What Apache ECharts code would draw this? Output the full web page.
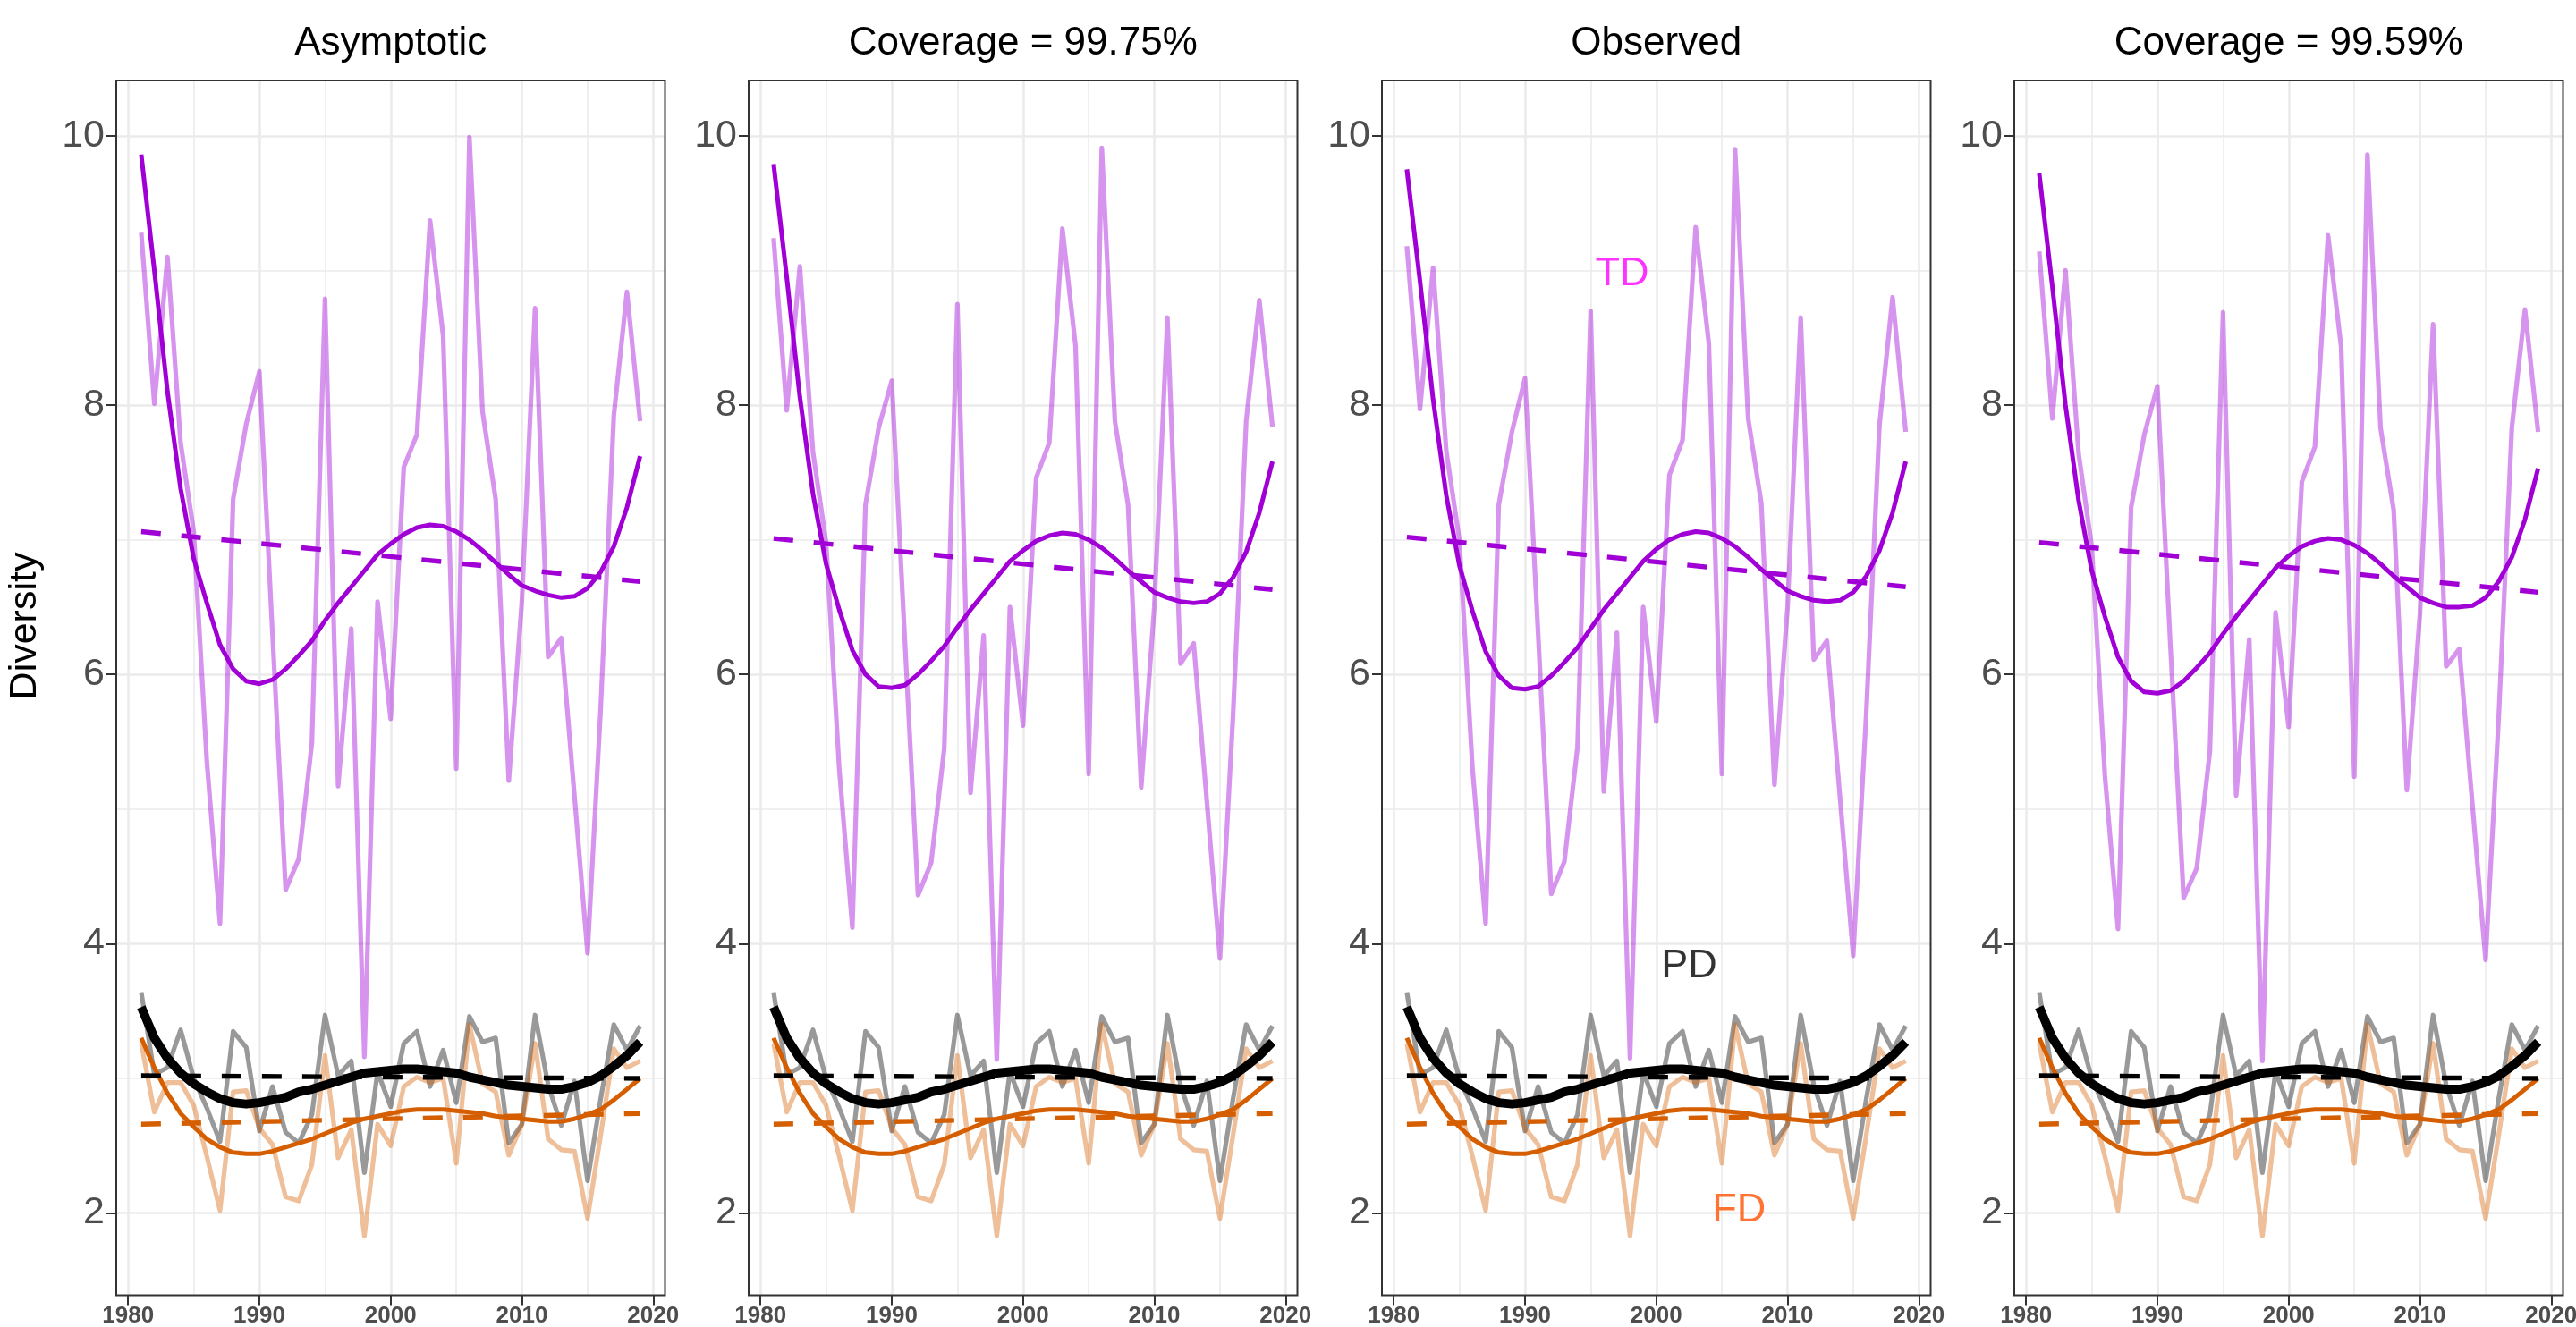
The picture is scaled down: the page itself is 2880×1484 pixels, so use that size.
<!DOCTYPE html>
<html>
<head>
<meta charset="utf-8">
<script src="https://cdn.jsdelivr.net/npm/echarts@6/dist/echarts.min.js"></script>
<style>
html,body{margin:0;padding:0;background:#ffffff;}
#chart{width:2880px;height:1484px;}
</style>
</head>
<body>
<div id="chart"></div>
<script>
// ---------------- DATA ----------------
const YEARS = [1981,1982,1983,1984,1985,1986,1987,1988,1989,1990,1991,1992,1993,1994,1995,1996,1997,1998,1999,2000,
               2001,2002,2003,2004,2005,2006,2007,2008,2009,2010,2011,2012,2013,2014,2015,2016,2017,2018,2019];
const TREND_YEARS = [1981, 2019];
const PANEL_TITLES = ['Asymptotic', 'Coverage = 99.75%', 'Observed', 'Coverage = 99.59%'];
const X_TICKS = [1980, 1990, 2000, 2010, 2020];
const X_MINOR = [1985, 1995, 2005, 2015];
const Y_TICKS = [2, 4, 6, 8, 10];
const Y_MINOR = [3, 5, 7, 9];

// Taxonomic diversity (TD), raw yearly values per panel
const tdRawAsymptotic = [9.28,8.01,9.10,7.72,7.06,5.35,4.15,7.30,7.86,8.25,6.30,4.40,4.63,5.49,8.79,5.17,6.34,3.16,6.54,5.67,
                         7.54,7.78,9.37,8.51,5.30,9.99,7.95,7.30,5.21,6.55,8.72,6.13,6.27,5.10,3.93,5.75,7.92,8.84,7.88];
const tdRawCov9975    = [9.24,7.96,9.03,7.65,6.98,5.30,4.12,7.26,7.83,8.18,6.25,4.36,4.60,5.45,8.75,5.12,6.29,3.14,6.50,5.62,
                         7.46,7.72,9.31,8.44,5.26,9.91,7.88,7.26,5.16,6.50,8.65,6.08,6.23,5.06,3.89,5.70,7.88,8.78,7.84];
const tdRawObserved   = [9.18,7.97,9.02,7.66,7.00,5.30,4.15,7.26,7.80,8.20,6.30,4.37,4.61,5.46,8.70,5.13,6.31,3.15,6.50,5.65,
                         7.48,7.74,9.32,8.46,5.26,9.90,7.90,7.27,5.18,6.50,8.65,6.11,6.25,5.08,3.91,5.72,7.85,8.80,7.80];
const tdRawCov9959    = [9.14,7.90,9.00,7.64,6.95,5.25,4.11,7.24,7.78,8.14,6.20,4.34,4.56,5.43,8.69,5.10,6.26,3.13,6.46,5.61,
                         7.43,7.69,9.26,8.43,5.24,9.86,7.83,7.22,5.14,6.45,8.60,6.06,6.19,5.03,3.88,5.68,7.83,8.71,7.80];

// TD smoothed curves per panel
const tdSmoothAsymptotic = [9.86,9.00,8.10,7.38,6.86,6.53,6.22,6.04,5.95,5.93,5.96,6.04,6.14,6.25,6.40,6.53,6.65,6.77,6.89,6.97,
                            7.04,7.09,7.11,7.10,7.06,7.00,6.92,6.83,6.74,6.66,6.62,6.59,6.57,6.58,6.64,6.76,6.95,7.24,7.62];
const tdSmoothCov9975    = [9.79,8.95,8.06,7.34,6.82,6.48,6.18,6.00,5.91,5.90,5.92,6.00,6.10,6.21,6.35,6.48,6.60,6.72,6.84,6.92,
                            6.99,7.03,7.05,7.04,7.00,6.94,6.86,6.77,6.69,6.61,6.57,6.54,6.53,6.54,6.60,6.72,6.91,7.20,7.58];
const tdSmoothObserved   = [9.75,8.92,8.04,7.33,6.81,6.47,6.17,5.99,5.90,5.89,5.91,5.99,6.09,6.20,6.34,6.48,6.60,6.72,6.84,6.93,
                            7.00,7.04,7.06,7.05,7.01,6.95,6.87,6.78,6.70,6.62,6.58,6.55,6.54,6.55,6.61,6.73,6.92,7.20,7.58];
const tdSmoothCov9959    = [9.72,8.88,8.00,7.29,6.77,6.43,6.13,5.95,5.87,5.86,5.88,5.95,6.05,6.16,6.30,6.43,6.55,6.67,6.79,6.88,
                            6.95,6.99,7.01,7.00,6.96,6.90,6.82,6.73,6.65,6.57,6.53,6.50,6.50,6.51,6.57,6.69,6.87,7.15,7.53];

// TD linear trends (values at 1981 and 2019)
const tdTrendAsymptotic = [7.06, 6.69];
const tdTrendCov9975    = [7.01, 6.63];
const tdTrendObserved   = [7.02, 6.65];
const tdTrendCov9959    = [6.98, 6.61];

// Phylogenetic diversity (PD)
const pdRaw    = [3.64,3.03,3.08,3.36,3.00,2.78,2.53,3.35,3.23,2.61,2.94,2.60,2.52,2.73,3.47,3.02,3.13,2.30,3.05,2.79,
                  3.26,3.35,2.94,3.21,2.82,3.46,3.27,3.30,2.52,2.66,3.47,2.95,2.65,2.98,2.24,2.85,3.40,3.21,3.39];
const pdSmooth = [3.53,3.30,3.15,3.04,2.96,2.90,2.85,2.82,2.81,2.82,2.84,2.86,2.90,2.92,2.95,2.98,3.01,3.04,3.05,3.06,
                  3.07,3.07,3.06,3.05,3.04,3.01,2.99,2.97,2.95,2.94,2.93,2.92,2.92,2.94,2.97,3.02,3.09,3.17,3.27];
const pdTrend  = [3.02, 3.00];

// Functional diversity (FD)
const fdRaw    = [3.26,2.75,2.97,2.97,2.80,2.42,2.02,2.90,2.91,2.63,2.51,2.12,2.09,2.36,3.17,2.41,2.62,1.83,2.66,2.50,
                  2.94,3.01,2.97,3.00,2.37,3.40,2.96,2.90,2.43,2.66,3.26,2.55,2.47,2.46,1.96,2.58,3.22,3.08,3.13];
const fdSmooth = [3.30,3.08,2.89,2.74,2.64,2.55,2.49,2.45,2.44,2.44,2.46,2.49,2.52,2.55,2.59,2.63,2.67,2.70,2.72,2.74,
                  2.76,2.77,2.77,2.77,2.76,2.75,2.74,2.72,2.71,2.70,2.69,2.68,2.68,2.70,2.73,2.77,2.84,2.92,3.00];
const fdTrend  = [2.66, 2.74];

// Text annotations (in the "Observed" panel)
const ANNOT_TEXT = ['TD', 'PD', 'FD'];
const ANNOT_X    = [1997.4, 2002.5, 2006.3];
const ANNOT_Y    = [8.97, 3.83, 2.02];

// ---------------- LAYOUT / STYLE ----------------
const FONT = "'Liberation Sans', Arial, Helvetica, sans-serif";
const GRID_LEFT = [130, 837, 1545, 2252];
const GRID_TOP = 90, GRID_W = 613.5, GRID_H = 1358.5;
const X_MIN = 1979.1, X_MAX = 2020.9, Y_MIN = 1.39, Y_MAX = 10.41;

const C_TD = '#A000D6', C_TD_RAW = 'rgba(160,0,214,0.42)';
const C_PD = '#000000', C_PD_RAW = 'rgba(0,0,0,0.40)';
const C_FD = '#D55E00', C_FD_RAW = 'rgba(213,94,0,0.40)';
const DASH = [22, 23];

const tdRawAll    = [tdRawAsymptotic, tdRawCov9975, tdRawObserved, tdRawCov9959];
const tdSmoothAll = [tdSmoothAsymptotic, tdSmoothCov9975, tdSmoothObserved, tdSmoothCov9959];
const tdTrendAll  = [tdTrendAsymptotic, tdTrendCov9975, tdTrendObserved, tdTrendCov9959];

function pairs(xs, ys) { return xs.map((x, i) => [x, ys[i]]); }

function line(panel, xs, ys, color, width, dashed, z) {
  return {
    type: 'line', xAxisIndex: panel * 2, yAxisIndex: panel * 2,
    data: pairs(xs, ys), symbol: 'none', showSymbol: false, silent: true,
    smooth: false, z: z, animation: false,
    lineStyle: { color: color, width: width, type: dashed ? DASH : 'solid', join: 'round', cap: 'butt' }
  };
}

const grids = [], xAxes = [], yAxes = [], series = [], graphics = [];

for (let p = 0; p < 4; p++) {
  grids.push({ left: GRID_LEFT[p], top: GRID_TOP, width: GRID_W, height: GRID_H,
               show: false, containLabel: false, outerBoundsMode: 'none' });

  xAxes.push({
    type: 'value', gridIndex: p, min: X_MIN, max: X_MAX, position: 'bottom',
    axisLine: { show: false },
    axisTick: { show: true, customValues: X_TICKS, length: 11, lineStyle: { color: '#333333', width: 2 } },
    axisLabel: { show: true, customValues: X_TICKS, fontSize: 26, fontWeight: 'bold', color: '#4D4D4D',
                 fontFamily: FONT, margin: 10, formatter: v => String(v) },
    splitLine: { show: true, lineStyle: { color: '#EBEBEB', width: 2.6 } }
  });
  xAxes.push({
    type: 'value', gridIndex: p, min: X_MIN, max: X_MAX, position: 'bottom',
    axisLine: { show: false },
    axisTick: { show: false, customValues: X_MINOR },
    axisLabel: { show: false, customValues: X_MINOR },
    splitLine: { show: true, lineStyle: { color: '#EBEBEB', width: 1.6 } }
  });
  yAxes.push({
    type: 'value', gridIndex: p, min: Y_MIN, max: Y_MAX, position: 'left',
    axisLine: { show: false },
    axisTick: { show: true, customValues: Y_TICKS, length: 11, lineStyle: { color: '#333333', width: 2 } },
    axisLabel: { show: true, customValues: Y_TICKS, fontSize: 43, color: '#4D4D4D',
                 fontFamily: FONT, margin: 13, formatter: v => String(v) },
    splitLine: { show: true, lineStyle: { color: '#EBEBEB', width: 2.6 } }
  });
  yAxes.push({
    type: 'value', gridIndex: p, min: Y_MIN, max: Y_MAX, position: 'left',
    axisLine: { show: false },
    axisTick: { show: false, customValues: Y_MINOR },
    axisLabel: { show: false, customValues: Y_MINOR },
    splitLine: { show: true, lineStyle: { color: '#EBEBEB', width: 1.6 } }
  });

  series.push(line(p, YEARS, tdRawAll[p], C_TD_RAW, 5.2, false, 2));
  series.push(line(p, YEARS, pdRaw, C_PD_RAW, 5.2, false, 2));
  series.push(line(p, YEARS, fdRaw, C_FD_RAW, 5.2, false, 2));
  series.push(line(p, YEARS, tdSmoothAll[p], C_TD, 5.0, false, 3));
  series.push(line(p, YEARS, fdSmooth, C_FD, 5.0, false, 3));
  series.push(line(p, YEARS, pdSmooth, C_PD, 10, false, 3));
  series.push(line(p, TREND_YEARS, tdTrendAll[p], C_TD, 5.4, true, 4));
  series.push(line(p, TREND_YEARS, pdTrend, C_PD, 5.4, true, 4));
  series.push(line(p, TREND_YEARS, fdTrend, C_FD, 5.4, true, 4));

  graphics.push({
    type: 'text', x: GRID_LEFT[p] + GRID_W / 2, y: 49, z: 50,
    style: { text: PANEL_TITLES[p], font: '44px ' + FONT, fill: '#000000',
             textAlign: 'center', textVerticalAlign: 'middle' }
  });
  graphics.push({
    type: 'rect', z: 60, silent: true,
    shape: { x: GRID_LEFT[p], y: GRID_TOP, width: GRID_W, height: GRID_H },
    style: { fill: 'none', stroke: '#333333', lineWidth: 2 }
  });
}

const ANNOT_COLORS = ['#FF00FF', '#000000', '#FF5000'];
series.push({
  type: 'scatter', xAxisIndex: 4, yAxisIndex: 4, symbolSize: 0, silent: true, z: 6, animation: false,
  data: ANNOT_TEXT.map((t, i) => ({
    value: [ANNOT_X[i], ANNOT_Y[i]],
    label: { show: true, position: 'inside', formatter: t, color: ANNOT_COLORS[i],
             fontSize: 45, fontFamily: FONT }
  }))
});

graphics.push({
  type: 'text', x: 28, y: 700, rotation: Math.PI / 2, z: 50,
  style: { text: 'Diversity', font: '43px ' + FONT, fill: '#000000',
           textAlign: 'center', textVerticalAlign: 'middle' }
});

const chart = echarts.init(document.getElementById('chart'), null, { renderer: 'canvas' });
chart.setOption({
  backgroundColor: '#ffffff',
  animation: false,
  grid: grids,
  xAxis: xAxes,
  yAxis: yAxes,
  series: series,
  graphic: graphics
});
</script>
</body>
</html>
